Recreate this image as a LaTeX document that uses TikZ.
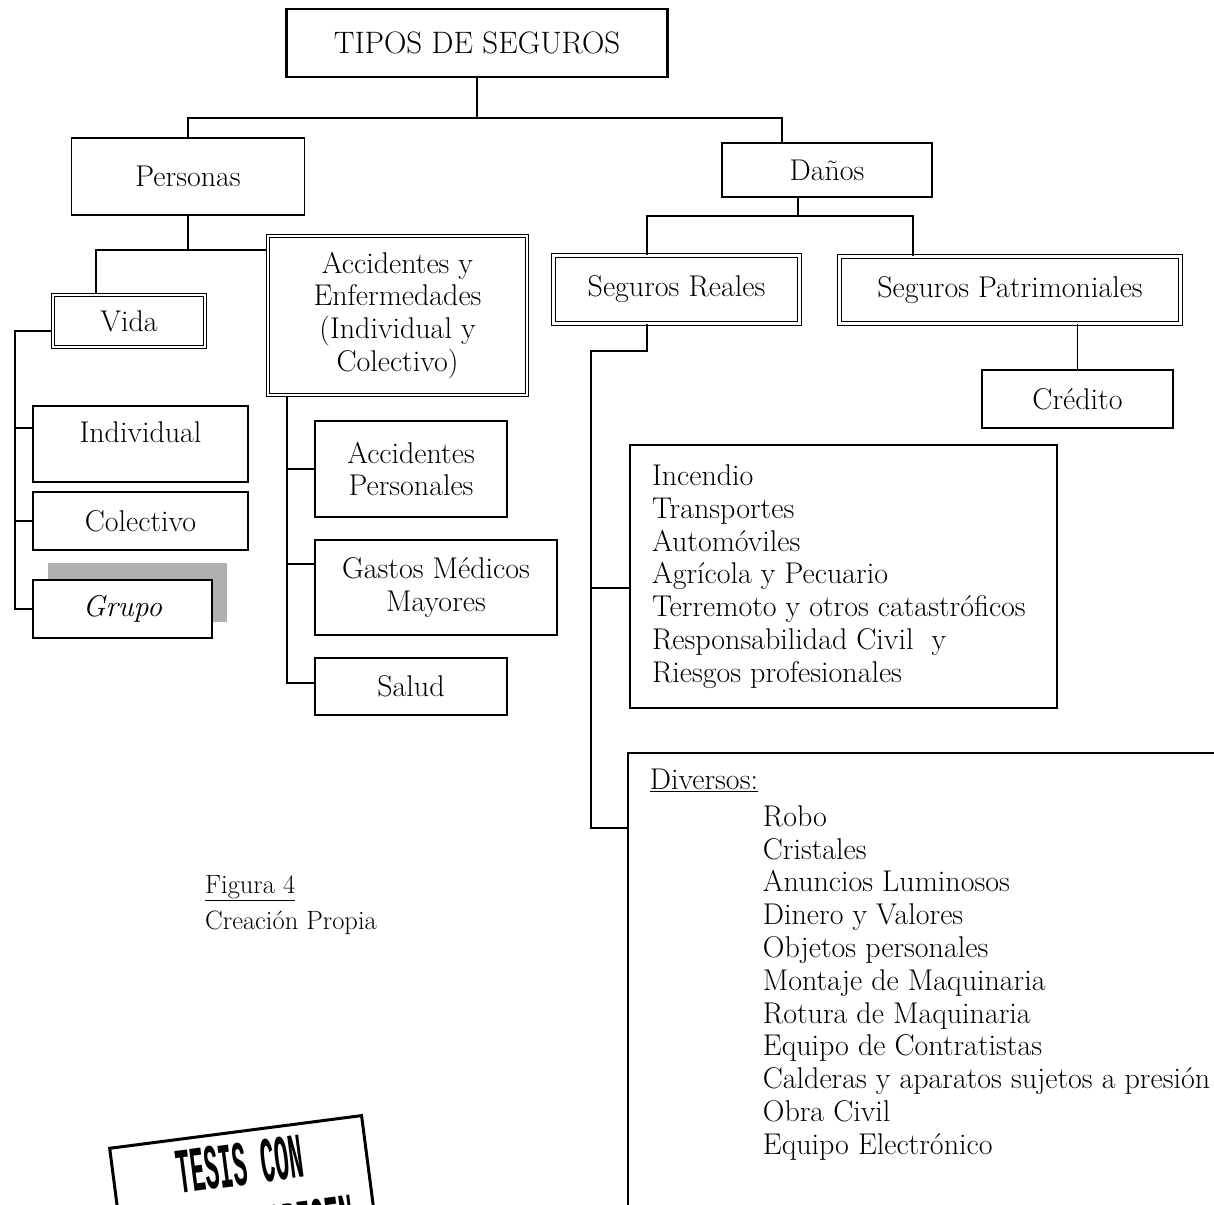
\documentclass[tikz,border=0pt]{standalone}
\usepackage{fontspec}
\newfontfamily\stampfont{Liberation Mono}
\begin{document}
\begin{tikzpicture}[x=1pt,y=-1pt,
  every node/.style={font=\fontsize{30}{32.8}\selectfont},
  box/.style={draw, line width=1.8pt, inner sep=0pt, align=center, fill=white},
  dbox/.style={draw, line width=1.3pt, double, double distance=2.2pt, inner sep=0pt, align=center, fill=white},
  conn/.style={line width=1.8pt},
  listbox/.style={draw, line width=1.8pt, fill=white},
]
\useasboundingbox (0,0) rectangle (1214,1204);
\clip (0,0) rectangle (1214,1204);

% top level
\node[box, line width=2.8pt, minimum width=381pt, minimum height=68pt, font=\fontsize{31}{34}\selectfont] (title) at (477,43) {TIPOS DE SEGUROS};
\node[box, minimum width=233pt, minimum height=77pt] (personas) at (188,176.5) {Personas};
\node[box, minimum width=210pt, minimum height=54pt] (danos) at (827,170) {Daños};

% personas branch
\node[dbox, minimum width=152pt, minimum height=52pt] (vida) at (129,321) {Vida};
\node[dbox, minimum width=259pt, minimum height=159pt] (accenf) at (397.5,315.5) {Accidentes y\\Enfermedades\\(Individual y\\Colectivo)};
\node[box, minimum width=215pt, minimum height=76pt, text depth=24pt] (individual) at (140.5,444) {Individual};
\node[box, minimum width=215pt, minimum height=58pt] (colectivo) at (140.5,521) {Colectivo};
\fill[gray!62] (48,563) rectangle (227,622);
\node[box, minimum width=179pt, minimum height=58pt] (grupo) at (122.5,609) {\itshape Grupo};
\node[box, minimum width=192pt, minimum height=96pt] (accpers) at (411,469) {Accidentes\\Personales};
\node[box, minimum width=242pt, minimum height=95pt] (gastos) at (436,587.5) {Gastos Médicos\\Mayores};
\node[box, minimum width=192pt, minimum height=57pt] (salud) at (411,686.5) {Salud};

% danos branch
\node[dbox, minimum width=246pt, minimum height=68pt] (reales) at (676.5,289.5) {Seguros Reales};
\node[dbox, minimum width=341pt, minimum height=67pt] (patrim) at (1010,290) {Seguros Patrimoniales};
\node[box, minimum width=191pt, minimum height=58pt] (credito) at (1077.5,399) {Crédito};
\node[listbox, minimum width=427pt, minimum height=263pt, inner sep=0pt] (incendio) at (843.5,576.5)
  {\parbox{383pt}{\raggedright Incendio\\Transportes\\Automóviles\\Agrícola y Pecuario\\Terremoto y otros catastróficos\\Responsabilidad Civil\ \ y\\Riesgos profesionales}};
\node[listbox, anchor=north west, inner xsep=22pt, inner ysep=16pt] (diversos) at (627,752)
  {\parbox[t][470pt][t]{620pt}{\underline{Diversos:}\par\vspace{4pt}\leftskip=113pt
   Robo\par Cristales\par Anuncios Luminosos\par Dinero y Valores\par Objetos personales\par
   Montaje de Maquinaria\par Rotura de Maquinaria\par Equipo de Contratistas\par
   Calderas y aparatos sujetos a presión\par Obra Civil\par Equipo Electrónico\par}};

% caption
\node[anchor=west, align=left, inner sep=0pt, font=\fontsize{26.5}{36}\selectfont] (fig) at (205,905) {\underline{Figura 4}\\Creación Propia};

% stamp
\node[draw, line width=3pt, rotate=7.4, anchor=north west, minimum width=254pt, inner sep=11pt, align=center,
      font=\stampfont\bfseries\fontsize{64}{66}\selectfont] (stamp) at (108,1147)
  {\scalebox{0.37}[1]{TESIS CON}\\\scalebox{0.37}[1]{FALLA DE ORIGEN}};

% connectors
\coordinate (bus1) at (477,118);
\coordinate (dtop) at (782,143);
\draw[conn] (title.south) -- (bus1);
\draw[conn] (personas.north) |- (bus1) -| (danos.north -| dtop);

\coordinate (pbus) at (96,250);
\draw[conn] (personas.south) -- (personas.south |- pbus);
\draw[conn] (vida.north -| pbus) |- (accenf.west |- pbus);

\coordinate (vl) at (15,331);
\coordinate (indb) at (33,428);
\draw[conn] (vida.west |- vl) -- (vl) -- (vl |- grupo.west) -- (grupo.west);
\draw[conn] (vl |- indb) -- (indb);
\draw[conn] (vl |- colectivo.west) -- (colectivo.west);

\coordinate (al) at (287,398);
\coordinate (gb) at (315,564);
\coordinate (sb) at (315,683);
\draw[conn] (accenf.south -| al) -- (al |- sb) -- (sb);
\draw[conn] (al |- accpers.west) -- (accpers.west);
\draw[conn] (al |- gb) -- (gb);

\coordinate (dbus) at (798,216);
\coordinate (pb) at (913,255);
\coordinate (rtop) at (647,253);
\draw[conn] (danos.south -| dbus) -- (dbus);
\draw[conn] (reales.north -| rtop) |- (dbus) -| (patrim.north -| pb);
\draw[conn] (credito.north) -- (credito.north |- patrim.south);

\coordinate (rb) at (591,351);
\coordinate (incb) at (630,588);
\coordinate (divb) at (627,828);
\draw[conn] (reales.south -| rtop) |- (rb) -- (rb |- divb) -- (divb);
\draw[conn] (rb |- incb) -- (incb);
\end{tikzpicture}
\end{document}
